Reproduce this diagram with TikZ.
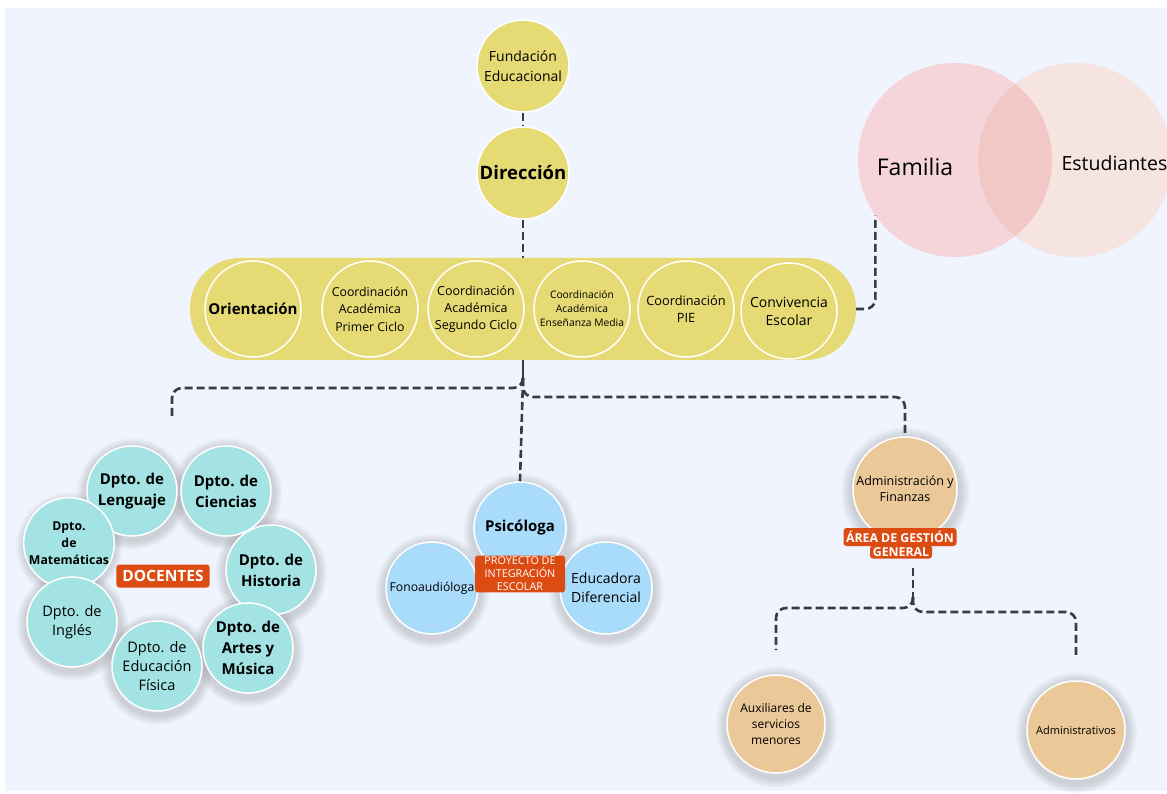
\documentclass[tikz,border=0pt]{standalone}
\usepackage{fontspec}
\setmainfont{Open Sans}
\usetikzlibrary{shadows,backgrounds}

\definecolor{bgblue}{HTML}{EFF4FE}
\definecolor{ybar}{HTML}{E6DA75}
\definecolor{tealc}{HTML}{A3E3E3}
\definecolor{skyc}{HTML}{A9DBFA}
\definecolor{tanc}{HTML}{EBC898}
\definecolor{tagred}{HTML}{DC4B12}
\definecolor{linkgray}{HTML}{3C3C3C}
\definecolor{famrose}{HTML}{F5D5DA}
\definecolor{estrose}{HTML}{F5E4DF}
\definecolor{midrose}{HTML}{F2C8C6}

\tikzset{
  bubble/.style={circle,draw=white,line width=1.5pt,inner sep=0pt,align=center,text=black},
  ybub/.style={bubble,fill=ybar,minimum size=96pt},
  tbub/.style={bubble,fill=tealc,minimum size=90pt},
  sbub/.style={bubble,fill=skyc,minimum size=92pt},
  abub/.style={bubble,fill=tanc,minimum size=98pt},
  tag/.style={fill=tagred,rounded corners=3pt,text=white,align=center,inner sep=2pt},
  link/.style={draw=linkgray,line width=2.6pt,dash pattern=on 8pt off 4pt,rounded corners=10pt},
  halo/.style={circular drop shadow={shadow xshift=0pt,shadow yshift=-2pt,shadow scale=1.25,opacity=.3}}
}

\begin{document}
\begin{tikzpicture}[x=1pt,y=-1pt]
\useasboundingbox (0,0) rectangle (1167,794);

% familia y estudiantes
\node[circle,fill=famrose,minimum size=194pt,inner sep=0pt] (famc) at (955,160) {};
\node[circle,fill=estrose,minimum size=194pt,inner sep=0pt] (estc) at (1075,160) {};
\begin{scope}
  \clip (955,160) circle (97pt);
  \fill[midrose] (1075,160) circle (97pt);
\end{scope}
\node[font=\fontsize{23}{27}\selectfont] (fam) at (915,167) {Familia};
\node[font=\fontsize{19.5}{23}\selectfont,anchor=west] (est) at (1058,163) {Estudiantes};

% direccion
\node[ybub,minimum size=92pt,font=\fontsize{14}{20}\selectfont] (fund) at (523,66) {Fundación\\Educacional};
\node[ybub,minimum size=92pt,font=\bfseries\fontsize{18.5}{22}\selectfont] (dir) at (523,173) {Dirección};

% coordinaciones
\node[fill=ybar,rounded corners=50pt,minimum width=666pt,minimum height=102pt] (bar) at (523,309) {};
\node[ybub,font=\bfseries\fontsize{15}{18}\selectfont] (ori) at (253,309) {Orientación};
\node[ybub,font=\fontsize{12.3}{17.5}\selectfont] (cpc) at (370,309) {Coordinación\\Académica\\Primer Ciclo};
\node[ybub,font=\fontsize{12.5}{17}\selectfont] (csc) at (476,309) {Coordinación\\Académica\\Segundo Ciclo};
\node[ybub,font=\fontsize{10.3}{14}\selectfont] (cem) at (582,309) {Coordinación\\Académica\\Enseñanza Media};
\node[ybub,font=\fontsize{12.8}{17}\selectfont] (pie) at (686,309) {Coordinación\\PIE};
\node[ybub,font=\fontsize{14}{18}\selectfont] (con) at (789,311) {Convivencia\\Escolar};

% docentes
\node[tbub,font=\bfseries\fontsize{15}{21}\selectfont] (len) at (132,491) {Dpto. de\\Lenguaje};
\node[tbub,font=\bfseries\fontsize{15}{21}\selectfont] (cie) at (226,491) {Dpto. de\\Ciencias};
\node[tbub,minimum size=86pt,font=\bfseries\fontsize{12.3}{17}\selectfont] (mat) at (69,543) {Dpto.\\de\\Matemáticas};
\node[tbub,font=\bfseries\fontsize{15}{21}\selectfont] (his) at (271,570) {Dpto. de\\Historia};
\node[tbub,font=\fontsize{14.5}{19}\selectfont] (ing) at (72,622) {Dpto. de\\Inglés};
\node[tbub,font=\bfseries\fontsize{15}{21}\selectfont] (art) at (248,648) {Dpto. de\\Artes y\\Música};
\node[tbub,font=\fontsize{14.5}{19}\selectfont] (edf) at (157,666) {Dpto. de\\Educación\\Física};
\node[tag,font=\bfseries\fontsize{15.5}{17}\selectfont,inner xsep=6pt,minimum height=23pt] (doc) at (163,576) {DOCENTES};

% proyecto de integracion
\node[sbub,font=\bfseries\fontsize{15}{18}\selectfont] (psi) at (520,528) {Psicóloga};
\node[sbub,font=\fontsize{12.2}{14}\selectfont] (fon) at (432,588) {Fonoaudióloga};
\node[sbub,font=\fontsize{14}{19}\selectfont] (edu) at (606,588) {Educadora\\Diferencial};
\node[tag,font=\fontsize{10.8}{13}\selectfont,minimum width=90pt,inner sep=1.5pt] (pint) at (520,574) {PROYECTO DE\\INTEGRACIÓN\\ESCOLAR};

% administracion
\node[abub,minimum size=104pt,font=\fontsize{12.5}{16}\selectfont] (adm) at (905,489) {Administración y\\Finanzas};
\node[tag,font=\bfseries\fontsize{12.3}{14}\selectfont,minimum height=18pt,inner sep=1pt,minimum width=113pt] (areaA) at (900,537) {ÁREA DE GESTIÓN};
\node[tag,font=\bfseries\fontsize{12.3}{14}\selectfont,minimum height=13pt,inner sep=1pt,minimum width=62pt] (areaB) at (901,552) {GENERAL};
\node[abub,font=\fontsize{12}{16}\selectfont] (aux) at (776,724) {Auxiliares de\\servicios\\menores};
\node[abub,font=\fontsize{11}{13}\selectfont] (adv) at (1076,730) {Administrativos};

% conectores
\draw[link] (fund) -- (dir);
\draw[link] (dir) -- (bar);
\draw[link] (bar.east) -| (famc.215);
\coordinate (jn) at (523,378);
\coordinate (lbend) at (172,388);
\coordinate (docTop) at (172,418);
\coordinate (rbend) at (905,397);
\draw[draw=linkgray,line width=2.6pt] (bar.south) -- (jn);
\draw[link] (jn) |- (lbend) -- (docTop);
\draw[link] (jn) |- (rbend) -- (adm.north);
\draw[link] (jn) -- (psi.north);
\coordinate (aTop) at (913,568);
\coordinate (aj) at (913,597);
\coordinate (auxbend) at (776,608);
\coordinate (auxTop) at (776,650);
\coordinate (advbend) at (1076,612);
\coordinate (advTop) at (1076,655);
\draw[link] (aTop) -- (aj);
\draw[link] (aj) |- (auxbend) -- (auxTop);
\draw[link] (aj) |- (advbend) -- (advTop);

% fondo y sombras
\begin{scope}[on background layer]
  \fill[bgblue] (5,8) rectangle (1167,791);
  \foreach \n/\r in {len/45,cie/45,mat/43,his/45,ing/45,art/45,edf/45,psi/46,fon/46,edu/46,adm/52,aux/49,adv/49}
    \path[halo] (\n.center) circle (\r pt);
\end{scope}
\end{tikzpicture}
\end{document}
